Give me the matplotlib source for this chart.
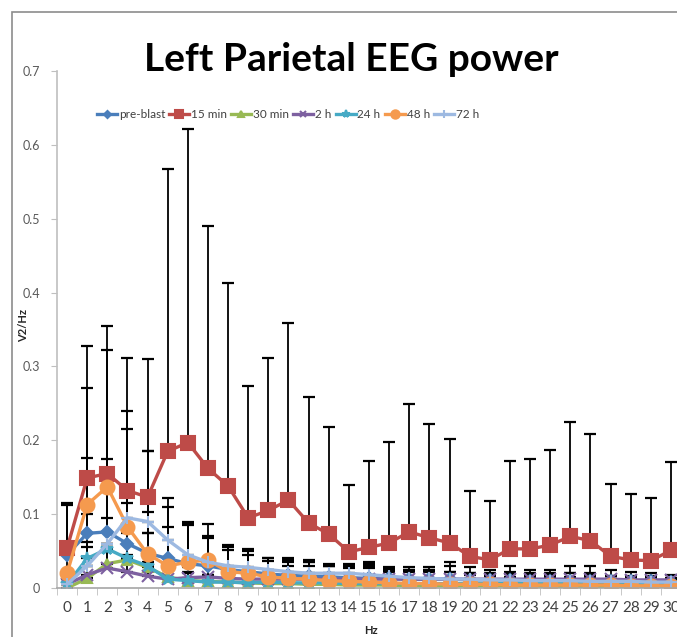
import numpy as np
import matplotlib.pyplot as plt
from matplotlib.patches import Rectangle

hz = list(range(31))

series_names = ['pre-blast', '15 min', '30 min', '2 h', '24 h', '48 h', '72 h']

pre_blast = [0.045, 0.074, 0.076, 0.060, 0.047, 0.040, 0.033, 0.030, 0.025, 0.022,
             0.019, 0.017, 0.016, 0.015, 0.014, 0.013, 0.013, 0.012, 0.012, 0.012,
             0.011, 0.011, 0.011, 0.010, 0.010, 0.010, 0.010, 0.009, 0.009, 0.009, 0.008]
min15 = [0.054, 0.149, 0.155, 0.132, 0.123, 0.185, 0.197, 0.162, 0.138, 0.095,
         0.105, 0.119, 0.088, 0.073, 0.049, 0.055, 0.061, 0.076, 0.068, 0.061,
         0.043, 0.038, 0.053, 0.053, 0.058, 0.070, 0.064, 0.043, 0.038, 0.037, 0.051]
min30 = [0.000, 0.013, 0.033, 0.038, 0.028, 0.015, 0.010, 0.009, 0.008, 0.007,
         0.006, 0.006, 0.005, 0.005, 0.004, 0.004, 0.004, 0.003, 0.003, 0.003,
         0.003, 0.003, 0.003, 0.003, 0.002, 0.002, 0.002, 0.002, 0.002, 0.002, 0.002]
h2 = [0.005, 0.018, 0.027, 0.022, 0.016, 0.012, 0.014, 0.015, 0.013, 0.012,
      0.012, 0.012, 0.012, 0.012, 0.012, 0.012, 0.012, 0.012, 0.012, 0.012,
      0.012, 0.012, 0.012, 0.012, 0.012, 0.012, 0.012, 0.012, 0.011, 0.011, 0.011]
h24 = [0.005, 0.040, 0.053, 0.040, 0.030, 0.012, 0.010, 0.008, 0.008, 0.007,
       0.008, 0.007, 0.007, 0.007, 0.006, 0.006, 0.006, 0.006, 0.006, 0.006,
       0.006, 0.006, 0.006, 0.006, 0.006, 0.006, 0.006, 0.006, 0.006, 0.006, 0.006]
h48 = [0.020, 0.113, 0.137, 0.083, 0.046, 0.030, 0.035, 0.038, 0.022, 0.020,
       0.015, 0.013, 0.012, 0.010, 0.009, 0.008, 0.007, 0.006, 0.006, 0.005,
       0.005, 0.005, 0.004, 0.004, 0.004, 0.004, 0.004, 0.004, 0.003, 0.003, 0.003]
h72 = [0.005, 0.030, 0.060, 0.095, 0.090, 0.065, 0.045, 0.035, 0.030, 0.028,
       0.025, 0.022, 0.020, 0.020, 0.020, 0.018, 0.016, 0.014, 0.013, 0.012,
       0.012, 0.011, 0.011, 0.010, 0.010, 0.010, 0.009, 0.009, 0.009, 0.008, 0.008]

# upper end of each error bar (mean + SD)
pre_blast_top = [0.112, 0.176, 0.175, 0.130, 0.103, 0.083, 0.090, 0.068, 0.055, 0.050,
                 0.037, 0.038, 0.035, 0.030, 0.027, 0.027, 0.022, 0.022, 0.022, 0.022,
                 0.020, 0.020, 0.022, 0.020, 0.020, 0.020, 0.020, 0.016, 0.016, 0.016, 0.012]
min15_top = [0.115, 0.327, 0.355, 0.312, 0.310, 0.567, 0.622, 0.490, 0.413, 0.273,
             0.311, 0.359, 0.259, 0.218, 0.140, 0.172, 0.198, 0.249, 0.222, 0.202,
             0.132, 0.118, 0.172, 0.174, 0.187, 0.225, 0.209, 0.141, 0.127, 0.122, 0.170]
min30_top = [0.005, 0.030, 0.060, 0.115, 0.075, 0.030, 0.020, 0.018, 0.015, 0.013,
             0.012, 0.012, 0.010, 0.010, 0.009, 0.009, 0.008, 0.007, 0.007, 0.007,
             0.006, 0.006, 0.006, 0.006, 0.005, 0.005, 0.005, 0.005, 0.005, 0.005, 0.005]
h2_top = [0.012, 0.055, 0.060, 0.045, 0.035, 0.025, 0.028, 0.030, 0.027, 0.025,
          0.025, 0.030, 0.035, 0.030, 0.030, 0.032, 0.028, 0.028, 0.028, 0.035,
          0.028, 0.025, 0.030, 0.025, 0.025, 0.030, 0.030, 0.025, 0.022, 0.020, 0.018]
h24_top = [0.012, 0.062, 0.095, 0.075, 0.075, 0.030, 0.022, 0.018, 0.016, 0.014,
           0.016, 0.014, 0.014, 0.014, 0.012, 0.012, 0.012, 0.012, 0.012, 0.012,
           0.012, 0.012, 0.012, 0.012, 0.012, 0.012, 0.012, 0.012, 0.012, 0.012, 0.012]
h48_top = [0.050, 0.271, 0.322, 0.240, 0.185, 0.122, 0.088, 0.086, 0.058, 0.053,
           0.040, 0.040, 0.038, 0.032, 0.030, 0.030, 0.025, 0.025, 0.025, 0.030,
           0.018, 0.016, 0.015, 0.015, 0.015, 0.015, 0.015, 0.012, 0.012, 0.012, 0.010]
h72_top = [0.012, 0.100, 0.130, 0.215, 0.185, 0.110, 0.085, 0.070, 0.052, 0.045,
           0.040, 0.035, 0.030, 0.030, 0.032, 0.035, 0.026, 0.024, 0.024, 0.022,
           0.020, 0.019, 0.019, 0.018, 0.018, 0.020, 0.018, 0.016, 0.015, 0.014, 0.014]

means = [pre_blast, min15, min30, h2, h24, h48, h72]
tops = [pre_blast_top, min15_top, min30_top, h2_top, h24_top, h48_top, h72_top]

colors = ['#4A7EBB', '#BE4B48', '#98B954', '#7D60A0', '#46AAC5', '#F59A4E', '#9DB9E1']
markers = ['D', 's', '^', 'x', '*', 'o', '+']
msizes = [6, 10, 7, 8, 9, 10, 9]

plt.rcParams['font.family'] = ['Lato', 'DejaVu Sans']

fig = plt.figure(figsize=(6.77, 6.37), dpi=100)
fig.patches.append(Rectangle((12 / 677, -0.1), 1.2, 1 - 12 / 637 + 0.1,
                             transform=fig.transFigure, fill=False,
                             edgecolor='#8c8c8c', linewidth=1.2))

ax = fig.add_axes([57 / 677, 49 / 637, 624 / 677, 517 / 637])

x = np.array(hz)
for m, t in zip(means, tops):
    m = np.array(m)
    err = np.array(t) - m
    ax.errorbar(x, m, yerr=[np.zeros_like(err), err], fmt='none', ecolor='black',
                elinewidth=1.3, capsize=4, capthick=1.6, zorder=1)

for name, m, c, mk, ms in zip(series_names, means, colors, markers, msizes):
    ax.plot(x, m, color=c, linewidth=2.4, marker=mk, markersize=ms,
            markerfacecolor=c, markeredgecolor=c, markeredgewidth=1.5,
            label=name, zorder=2)

ax.set_xlim(-0.5, 30.5)
ax.set_ylim(0, 0.7)
ax.set_yticks(np.arange(0, 0.71, 0.1))
ax.set_yticklabels(['0'] + [f'{v:.1f}' for v in np.arange(0.1, 0.71, 0.1)])
ax.set_xticks(x)
ax.set_xticklabels([str(h) for h in hz])
ax.set_xticks(np.arange(-0.5, 31, 1), minor=True)
ax.tick_params(axis='x', which='major', length=0, pad=9, labelsize=11, labelcolor='#404040')
ax.tick_params(axis='x', which='minor', length=5, color='#bfbfbf', direction='out')
ax.tick_params(axis='y', length=4, color='#bfbfbf', labelsize=9, labelcolor='#595959', pad=8)

for s in ['top', 'right']:
    ax.spines[s].set_visible(False)
ax.spines['left'].set_color('#bfbfbf')
ax.spines['bottom'].set_color('#a6a6a6')
ax.spines['left'].set_linewidth(1.2)
ax.spines['bottom'].set_linewidth(1.2)

fig.text(0.519, 0.906, 'Left Parietal EEG power', ha='center', va='center',
         fontsize=28, fontweight='bold')
fig.text(24 / 677, 1 - 325 / 637, 'V2/Hz', rotation=90, ha='center', va='center',
         fontsize=8, fontweight='bold', color='#262626')
fig.text(371 / 677, 1 - 630 / 637, 'Hz', ha='center', va='center',
         fontsize=8, fontweight='bold', color='#262626')

fig.legend(loc='center', bbox_to_anchor=(288 / 677, 1 - 115 / 637), ncol=7,
           frameon=False, fontsize=8.5, handlelength=1.7, handletextpad=0.15,
           columnspacing=0.35, markerscale=0.6, labelcolor='#404040',
           borderpad=0.2)

fig.savefig('out.png', dpi=100)
